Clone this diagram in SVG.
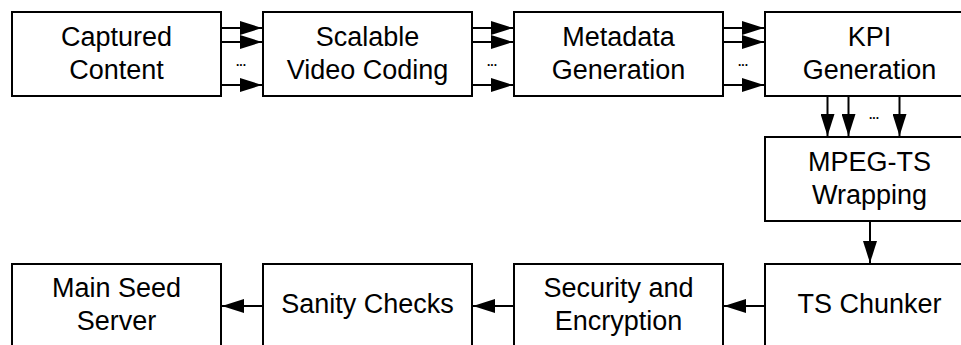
<svg xmlns="http://www.w3.org/2000/svg" width="961" height="345" viewBox="0 0 961 345">
<style>
.box{fill:#fff;stroke:#000;stroke-width:2}
.lbl{font-family:"Liberation Sans",Arial,sans-serif;font-size:27px;fill:#000;text-anchor:middle}
.dots{font-family:"Liberation Sans",Arial,sans-serif;font-size:12px;font-weight:bold;fill:#000;text-anchor:middle}
.cn{stroke:#000;stroke-width:2;fill:none}
</style>
<defs>
<marker id="ah" markerUnits="userSpaceOnUse" markerWidth="22" markerHeight="14" refX="22" refY="7" orient="auto">
<path d="M0,0 L22,7 L0,14 z" fill="#000"/>
</marker>
</defs>
<rect width="961" height="345" fill="#fff"/>
<g id="captured">
<rect class="box" x="12" y="12" width="209" height="84"/>
<text class="lbl" x="116.5" y="46">Captured</text>
<text class="lbl" x="116.5" y="78.5">Content</text>
</g>
<g id="svc">
<rect class="box" x="263" y="12" width="209" height="84"/>
<text class="lbl" x="367.5" y="46">Scalable</text>
<text class="lbl" x="367.5" y="78.5">Video Coding</text>
</g>
<g id="metadata">
<rect class="box" x="514" y="12" width="209" height="84"/>
<text class="lbl" x="618.5" y="46">Metadata</text>
<text class="lbl" x="618.5" y="78.5">Generation</text>
</g>
<g id="kpi">
<rect class="box" x="765" y="12" width="209" height="84"/>
<text class="lbl" x="869.5" y="46">KPI</text>
<text class="lbl" x="869.5" y="78.5">Generation</text>
</g>
<g id="mpegts">
<rect class="box" x="765" y="137" width="209" height="84"/>
<text class="lbl" x="869.5" y="171">MPEG-TS</text>
<text class="lbl" x="869.5" y="203.5">Wrapping</text>
</g>
<g id="chunker">
<rect class="box" x="765" y="264" width="209" height="84"/>
<text class="lbl" x="869.5" y="313">TS Chunker</text>
</g>
<g id="security">
<rect class="box" x="514" y="264" width="209" height="84"/>
<text class="lbl" x="618.5" y="297">Security and</text>
<text class="lbl" x="618.5" y="329.5">Encryption</text>
</g>
<g id="sanity">
<rect class="box" x="263" y="264" width="209" height="84"/>
<text class="lbl" x="367.5" y="313">Sanity Checks</text>
</g>
<g id="seed">
<rect class="box" x="12" y="264" width="209" height="84"/>
<text class="lbl" x="116.5" y="297">Main Seed</text>
<text class="lbl" x="116.5" y="329.5">Server</text>
</g>
<g id="connectors">
<path class="cn" d="M221,28 H262" marker-end="url(#ah)"/>
<path class="cn" d="M221,42 H262" marker-end="url(#ah)"/>
<path class="cn" d="M221,85 H262" marker-end="url(#ah)"/>
<text class="dots" x="241" y="66">...</text>
<path class="cn" d="M472,28 H513" marker-end="url(#ah)"/>
<path class="cn" d="M472,42 H513" marker-end="url(#ah)"/>
<path class="cn" d="M472,85 H513" marker-end="url(#ah)"/>
<text class="dots" x="492" y="66">...</text>
<path class="cn" d="M723,28 H764" marker-end="url(#ah)"/>
<path class="cn" d="M723,42 H764" marker-end="url(#ah)"/>
<path class="cn" d="M723,85 H764" marker-end="url(#ah)"/>
<text class="dots" x="743" y="66">...</text>
<path class="cn" d="M827.5,96 V136" marker-end="url(#ah)"/>
<path class="cn" d="M848.5,96 V136" marker-end="url(#ah)"/>
<path class="cn" d="M899.5,96 V136" marker-end="url(#ah)"/>
<text class="dots" x="874" y="119">...</text>
<path class="cn" d="M870,221 V263" marker-end="url(#ah)"/>
<path class="cn" d="M765,306 H724" marker-end="url(#ah)"/>
<path class="cn" d="M514,306 H473" marker-end="url(#ah)"/>
<path class="cn" d="M263,306 H222" marker-end="url(#ah)"/>
</g>
</svg>
